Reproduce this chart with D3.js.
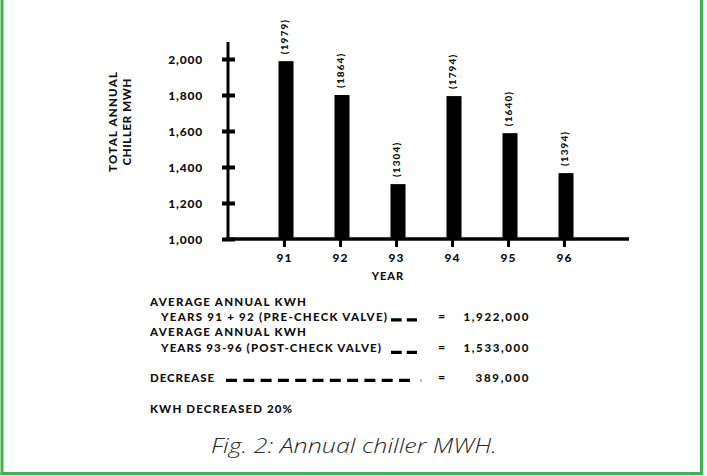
<!DOCTYPE html>
<html>
<head>
<meta charset="utf-8">
<script src="https://cdn.jsdelivr.net/npm/d3@7"></script>
<style>
  html, body { margin: 0; padding: 0; background: #fff; }
  svg { display: block; }
  text.b { font-family: "Lato", "Open Sans", sans-serif; font-weight: 900; fill: #111; }
</style>
</head>
<body>
<svg id="chart" width="707" height="476"></svg>
<script>
// ---- data ----
const years = ["91", "92", "93", "94", "95", "96"];
const barValues = [1988, 1800, 1305, 1794, 1588, 1366];
const valueLabels = ["(1979)", "(1864)", "(1304)", "(1794)", "(1640)", "(1394)"];
const yTicks = [1000, 1200, 1400, 1600, 1800, 2000];
const yTitleLines = ["TOTAL ANNUAL", "CHILLER MWH"];
const xTitle = "YEAR";
const summaryLabels = [
  "AVERAGE ANNUAL KWH",
  "YEARS 91 + 92 (PRE-CHECK VALVE)",
  "AVERAGE ANNUAL KWH",
  "YEARS 93-96 (POST-CHECK VALVE)",
  "DECREASE",
  "KWH DECREASED 20%"
];
const summaryValues = ["1,922,000", "1,533,000", "389,000"];
const caption = "Fig. 2: Annual chiller MWH.";

// ---- drawing ----
const svg = d3.select("#chart");
const green = "#3db54e";

// frame
svg.append("line").attr("x1", 2).attr("x2", 2).attr("y1", 0).attr("y2", 475)
  .attr("stroke", green).attr("stroke-width", 3);
svg.append("line").attr("x1", 701.5).attr("x2", 701.5).attr("y1", 0).attr("y2", 475)
  .attr("stroke", green).attr("stroke-width", 3);
svg.append("line").attr("x1", 0.5).attr("x2", 703).attr("y1", 473.5).attr("y2", 473.5)
  .attr("stroke", green).attr("stroke-width", 3);

const y = d3.scaleLinear().domain([1000, 2000]).range([239, 59]);
const x = d3.scalePoint().domain(years).range([284, 564]);
const axisX = 228;
const barW = 15;

// y axis line
svg.append("line").attr("x1", axisX).attr("x2", axisX)
  .attr("y1", 42).attr("y2", 240.5)
  .attr("stroke", "#000").attr("stroke-width", 3);

// y axis ticks + labels
const gy = svg.append("g").attr("transform", `translate(${axisX},0)`)
  .call(d3.axisLeft(y).tickValues(yTicks).tickFormat(d3.format(",")).tickSize(6).tickPadding(19));
gy.select(".domain").remove();
gy.selectAll(".tick line").attr("x1", 7).attr("x2", -6)
  .attr("stroke", "#000").attr("stroke-width", 4);
gy.selectAll(".tick text").attr("class", "b").style("font-size", "12px")
  .attr("letter-spacing", 0.8).attr("dy", "0.36em");

// bars
svg.append("g").selectAll("rect").data(years).join("rect")
  .attr("x", (d) => x(d) + 2 - barW / 2)
  .attr("y", (d, i) => y(barValues[i]))
  .attr("width", barW)
  .attr("height", (d, i) => y(1000) - y(barValues[i]))
  .attr("fill", "#000");

// value labels (rotated)
svg.append("g").selectAll("text").data(years).join("text")
  .attr("class", "b")
  .attr("transform", (d, i) => `translate(${x(d)},${y(barValues[i]) - 7}) rotate(-90)`)
  .attr("dy", "0.36em")
  .style("font-size", "10px")
  .attr("letter-spacing", 1.1)
  .text((d, i) => valueLabels[i]);

// x axis line
svg.append("line").attr("x1", 226).attr("x2", 629)
  .attr("y1", 239).attr("y2", 239)
  .attr("stroke", "#000").attr("stroke-width", 3.5);

// x axis ticks + labels
const gx = svg.append("g").attr("transform", "translate(0,239)")
  .call(d3.axisBottom(x).tickSize(8).tickPadding(6));
gx.select(".domain").remove();
gx.selectAll(".tick line").attr("stroke", "#000").attr("stroke-width", 3);
gx.selectAll(".tick text").attr("class", "b").style("font-size", "12px")
  .attr("letter-spacing", 1);

// x title
svg.append("text").attr("class", "b").attr("x", 388).attr("y", 280).attr("text-anchor", "middle")
  .style("font-size", "11px").attr("letter-spacing", 1).text(xTitle);

// y title
const yTitleX = [116.5, 130.5];
const yTitleLen = [100, 87];
yTitleLines.forEach((t, i) => {
  svg.append("text").attr("class", "b")
    .attr("transform", `translate(${yTitleX[i]},122) rotate(-90)`)
    .attr("text-anchor", "middle")
    .style("font-size", "11.5px")
    .attr("textLength", yTitleLen[i]).attr("lengthAdjust", "spacing")
    .text(t);
});

// summary block
const sumX = [150, 161, 150, 161, 150, 150];
const sumY = [306, 321, 336, 351.5, 381.5, 413];
const sumLen = [156, 226, 156, 220, 64, 142];
summaryLabels.forEach((t, i) => {
  svg.append("text").attr("class", "b").attr("x", sumX[i]).attr("y", sumY[i])
    .style("font-size", "11.5px")
    .attr("textLength", sumLen[i]).attr("lengthAdjust", "spacing")
    .text(t);
});

// equals + values
const valRowY = [321, 351.5, 381.5];
const valLen = [65, 65, 53];
summaryValues.forEach((v, i) => {
  svg.append("text").attr("class", "b").attr("x", 441.5).attr("y", valRowY[i])
    .attr("text-anchor", "middle").style("font-size", "12.5px").text("=");
  svg.append("text").attr("class", "b").attr("x", 528.5).attr("y", valRowY[i])
    .attr("text-anchor", "end").style("font-size", "11.5px")
    .attr("textLength", valLen[i]).attr("lengthAdjust", "spacing")
    .text(v);
});

// dashed leaders
[319.8, 352.3].forEach((yy) => {
  svg.append("line").attr("x1", 391).attr("x2", 417).attr("y1", yy).attr("y2", yy)
    .attr("stroke", "#000").attr("stroke-width", 3.2)
    .attr("stroke-dasharray", "10.7,5");
});
svg.append("line").attr("x1", 226).attr("x2", 410).attr("y1", 380.3).attr("y2", 380.3)
  .attr("stroke", "#000").attr("stroke-width", 3.2)
  .attr("stroke-dasharray", "11,6.3");
svg.append("line").attr("x1", 421).attr("x2", 421).attr("y1", 379).attr("y2", 382)
  .attr("stroke", "#666").attr("stroke-width", 0.8);

// caption
svg.append("text").attr("x", 354).attr("y", 453).attr("text-anchor", "middle")
  .style("font-family", "'Open Sans', Lato, sans-serif")
  .style("font-size", "20px").style("font-style", "italic").style("font-weight", "300")
  .style("fill", "#2a2a2a")
  .attr("textLength", 286).attr("lengthAdjust", "spacingAndGlyphs")
  .text(caption);
</script>
</body>
</html>
